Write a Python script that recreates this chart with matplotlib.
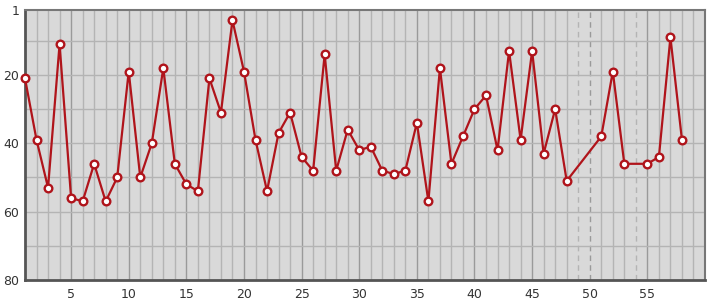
import numpy as np
import matplotlib
matplotlib.use("Agg")
import matplotlib.pyplot as plt

# data (x = index, y = rank, lower is better)
days = [1, 2, 3, 4, 5, 6, 7, 8, 9, 10, 11, 12, 13, 14, 15, 16, 17, 18, 19, 20,
        21, 22, 23, 24, 25, 26, 27, 28, 29, 30, 31, 32, 33, 34, 35, 36, 37, 38, 39, 40,
        41, 42, 43, 44, 45, 46, 47, 48, 51, 52, 53, 55, 56, 57, 58]
ranks = [21, 39, 53, 11, 56, 57, 46, 57, 50, 19, 50, 40, 18, 46, 52, 54, 21, 31, 4, 19,
         39, 54, 37, 31, 44, 48, 14, 48, 36, 42, 41, 48, 49, 48, 34, 57, 18, 46, 38, 30,
         26, 42, 13, 39, 13, 43, 30, 51, 38, 19, 46, 46, 44, 9, 39]
x_ticks = [5, 10, 15, 20, 25, 30, 35, 40, 45, 50, 55]
y_ticks = [1, 20, 40, 60, 80]

fig = plt.figure(figsize=(7.15, 3.0), dpi=100)
ax = fig.add_axes([25 / 715, 20 / 300, 680 / 715, 270 / 300])
ax.set_facecolor('#d9d9d9')

xmin, xmax = 1, 60
ymin, ymax = 1, 80

# grid: every unit vertically, darker every 5; dashed where a value is missing
missing = set(range(days[0], days[-1] + 1)) - set(days)
for gx in range(xmin + 1, xmax):
    major = gx % 5 == 0
    col = '#9a9a9a' if major else '#b4b4b4'
    if gx in missing:
        ax.axvline(gx, color=col, lw=1, ls=(0, (4, 3)), zorder=1)
    else:
        ax.axvline(gx, color=col, lw=1, zorder=1)
for gy in range(10, ymax, 10):
    ax.axhline(gy, color='#b4b4b4', lw=1, zorder=1)

ax.plot(days, ranks, color='#b0141b', lw=1.6, marker='o', ms=5.5,
        mfc='white', mec='#b0141b', mew=1.7, zorder=3, clip_on=False)

ax.set_xlim(xmin, xmax)
ax.set_ylim(ymax, ymin)
ax.set_xticks(x_ticks)
ax.set_yticks(y_ticks)
ax.tick_params(length=0, labelsize=9, colors='#333333', pad=6)
ax.tick_params(axis='y', pad=4)

for side in ['left', 'bottom']:
    ax.spines[side].set_color('#555555')
    ax.spines[side].set_linewidth(2)
for side in ['top', 'right']:
    ax.spines[side].set_color('#777777')
    ax.spines[side].set_linewidth(1.5)

fig.savefig('out.png', dpi=100)
